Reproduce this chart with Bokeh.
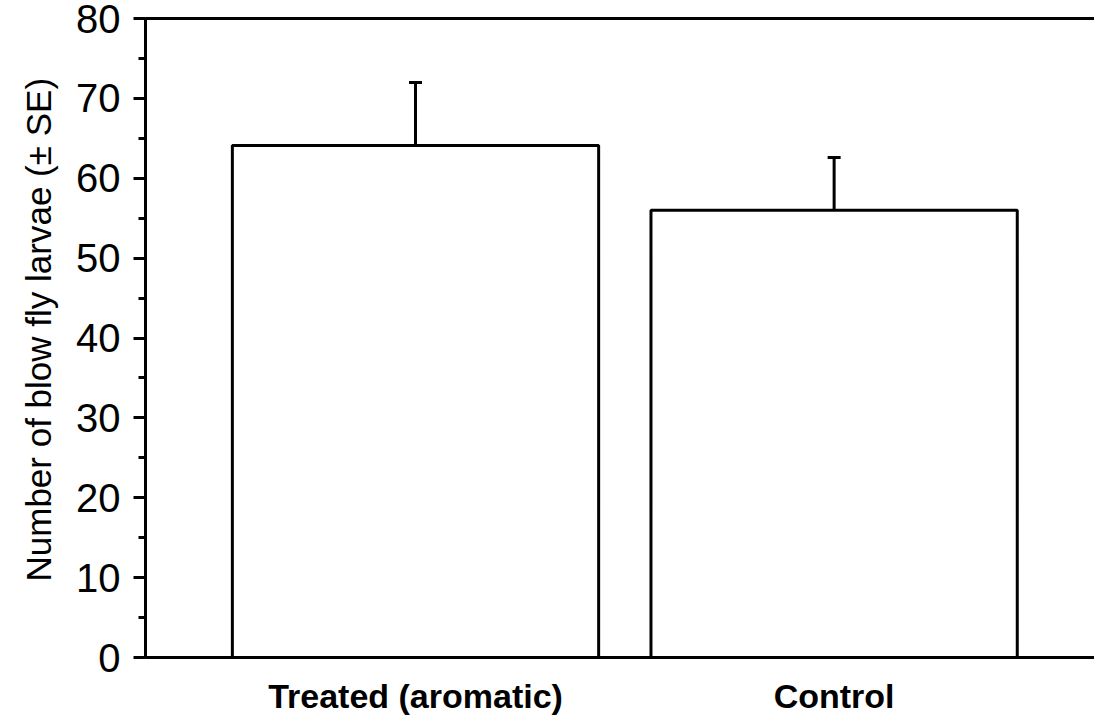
from bokeh.plotting import figure
from bokeh.models import (Range1d, LinearAxis, FixedTicker, SingleIntervalTicker,
                          Whisker, TeeHead, ColumnDataSource, Title)
from bokeh.embed import file_html
from bokeh.resources import INLINE

# ---- data ----
categories = ["Treated (aromatic)", "Control"]
means = [64.1, 56.0]
se = [7.9, 6.6]
y_label = "Number of blow fly larvae (\u00b1 SE)"

xs = [i + 1 for i in range(len(categories))]
upper = [m + s for m, s in zip(means, se)]

src = ColumnDataSource(dict(x=xs, top=means, upper=upper, lower=means))

FONT = "Liberation Sans"

p = figure(width=1094, height=720, output_backend="svg", toolbar_location=None,
           x_range=Range1d(0.355, 2.622), y_range=Range1d(0, 80),
           min_border_left=145, min_border_right=0, min_border_top=18,
           min_border_bottom=63)
p.outline_line_color = None
p.xgrid.visible = False
p.ygrid.visible = False
p.background_fill_color = "white"
p.border_fill_color = "white"

p.vbar(x="x", top="top", bottom=0, width=0.875, source=src,
       fill_color="white", line_color="black", line_width=3)

wh = Whisker(base="x", upper="upper", lower="lower", source=src,
             line_color="black", line_width=3,
             upper_head=TeeHead(size=13, line_color="black", line_width=3),
             lower_head=None)
p.add_layout(wh)

# y axis
ya = p.yaxis[0]
ya.ticker = SingleIntervalTicker(interval=10, num_minor_ticks=2)
ya.axis_line_width = 3
ya.major_tick_line_width = 3
ya.minor_tick_line_width = 3
ya.major_tick_out = 12
ya.major_tick_in = 0
ya.minor_tick_out = 7
ya.minor_tick_in = 0
ya.major_label_standoff = 13
ya.major_label_text_font = FONT
ya.major_label_text_font_size = "40px"
ya.major_label_text_color = "black"

# x axis
xa = p.xaxis[0]
xa.ticker = FixedTicker(ticks=xs)
xa.major_label_overrides = {x: c for x, c in zip(xs, categories)}
xa.axis_line_width = 3
xa.major_tick_line_color = None
xa.minor_tick_line_color = None
xa.major_tick_out = 0
xa.major_tick_in = 0
xa.major_label_standoff = 19
xa.major_label_text_font = FONT
xa.major_label_text_font_size = "34px"
xa.major_label_text_font_style = "bold"
xa.major_label_text_color = "black"

# top frame line
top = LinearAxis(ticker=FixedTicker(ticks=[]), axis_line_width=3,
                 major_tick_line_color=None, minor_tick_line_color=None,
                 major_label_text_font_size="0px")
p.add_layout(top, "above")

# y axis title
p.add_layout(Title(text=y_label, align="left", offset=76, text_font=FONT,
                   text_font_size="35px", text_font_style="normal",
                   text_color="black", standoff=31), "left")

open("out.html", "w").write(file_html(p, INLINE))
